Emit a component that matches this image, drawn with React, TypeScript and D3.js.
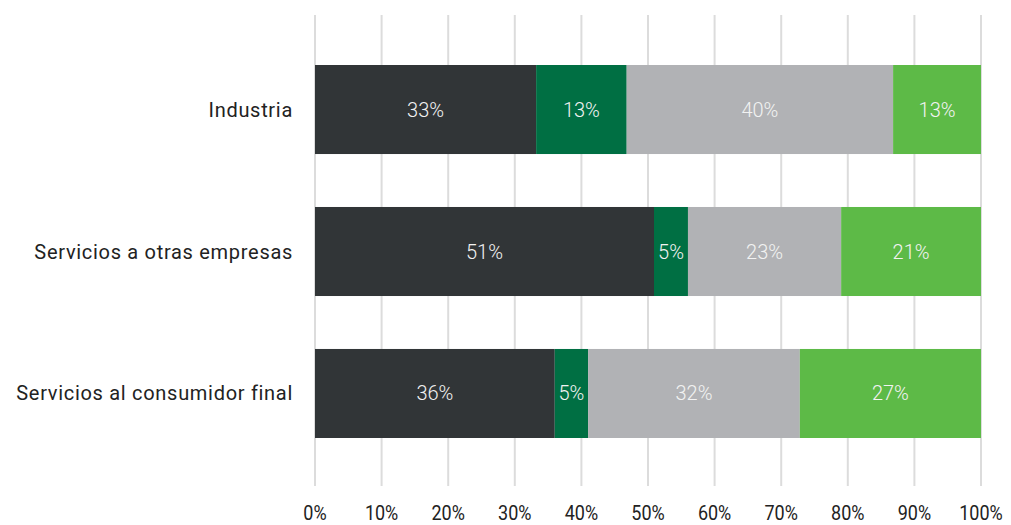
import React from "react";
import * as d3 from "d3";

const categories = ["Industria", "Servicios a otras empresas", "Servicios al consumidor final"];
const serie1 = [33.2, 50.9, 36.0];
const serie2 = [13.6, 5.1, 5.0];
const serie3 = [40.0, 23.0, 31.8];
const serie4 = [13.2, 21.0, 27.2];
const labels1 = ["33%", "51%", "36%"];
const labels2 = ["13%", "5%", "5%"];
const labels3 = ["40%", "23%", "32%"];
const labels4 = ["13%", "21%", "27%"];
const ticks = [0, 10, 20, 30, 40, 50, 60, 70, 80, 90, 100];
const colors = ["#313537", "#006f43", "#b1b2b5", "#5dba47"];

export default function App() {
  const W = 1011, H = 525;
  const x = d3.scaleLinear().domain([0, 100]).range([315, 981]);
  const y = d3.scaleBand().domain(categories).range([65, 438]).paddingInner(0.373).paddingOuter(0);
  const series = [serie1, serie2, serie3, serie4];
  const labs = [labels1, labels2, labels3, labels4];
  const font = "Roboto, 'Noto Sans', sans-serif";
  return (
    <svg width={W} height={H} style={{ position: "absolute", left: 0, top: 0 }}>
      <rect width={W} height={H} fill="#fff" />
      {ticks.map((t) => (
        <line key={t} x1={x(t)} x2={x(t)} y1={15} y2={486} stroke="#dcdcdc" strokeWidth={2} />
      ))}
      {categories.map((c, i) => {
        let acc = 0;
        const yy = y(c)!;
        const bh = y.bandwidth();
        return (
          <g key={c}>
            {series.map((s, k) => {
              const x0 = x(acc);
              acc += s[i];
              const x1 = x(acc);
              return (
                <g key={k}>
                  <rect x={x0} y={yy} width={x1 - x0} height={bh} fill={colors[k]} />
                  <text x={(x0 + x1) / 2} y={yy + bh / 2} dy="0.35em" textAnchor="middle" fill="#f2f2f2" fontFamily={font} fontWeight={300} fontSize={20}>
                    {labs[k][i]}
                  </text>
                </g>
              );
            })}
            <text x={293} y={yy + bh / 2} dy="0.35em" textAnchor="end" fill="#222" fontFamily={font} fontSize={20} letterSpacing={0.7}>
              {c}
            </text>
          </g>
        );
      })}
      {ticks.map((t) => (
        <text key={t} x={x(t)} y={513} dy="0.35em" textAnchor="middle" fill="#222" fontFamily={font} fontSize={20} transform={`translate(${x(t)},0) scale(0.9,1) translate(${-x(t)},0)`}>
          {t + "%"}
        </text>
      ))}
    </svg>
  );
}
